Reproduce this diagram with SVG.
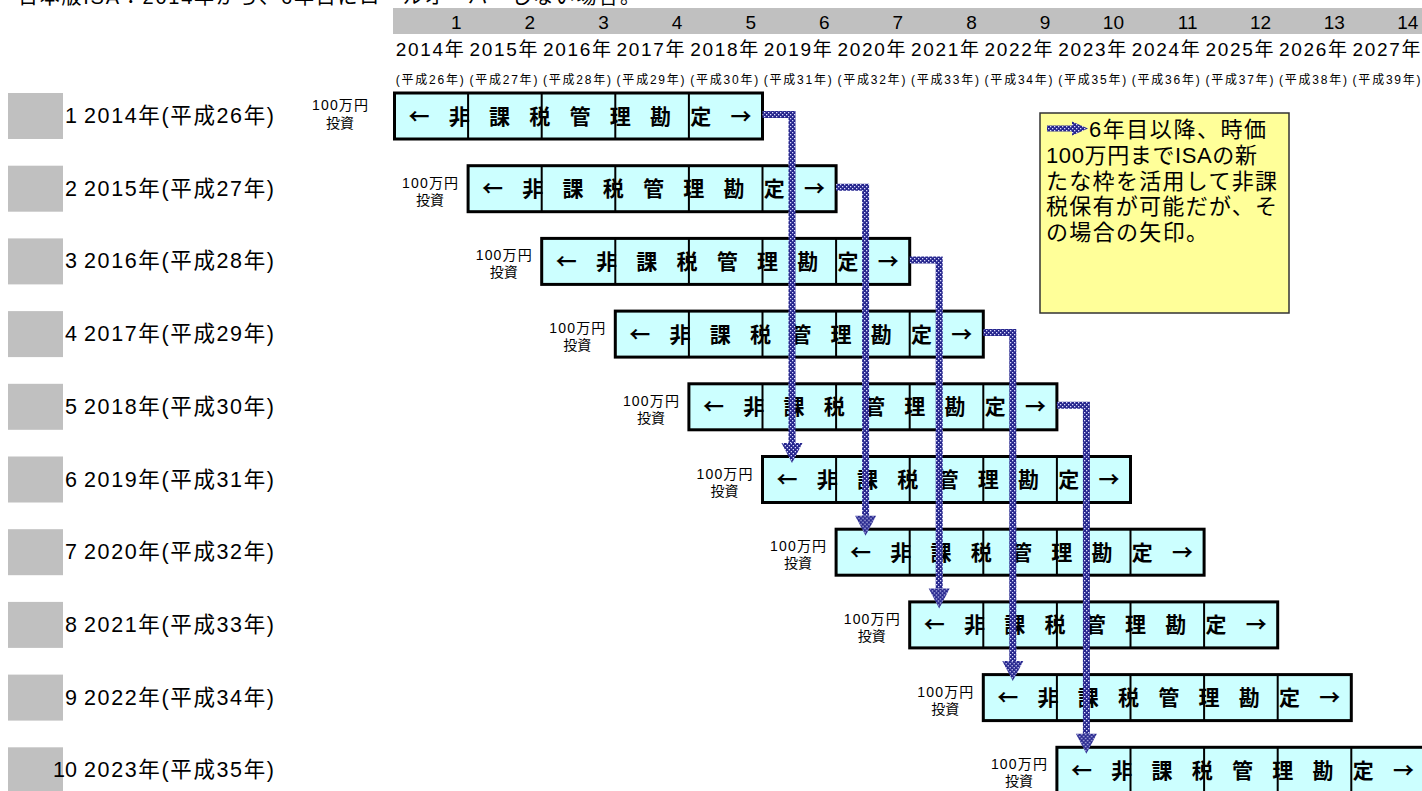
<svg xmlns="http://www.w3.org/2000/svg" width="1422" height="791" viewBox="0 0 1422 791">
<style>
text{font-family:"Liberation Sans","Noto Sans CJK JP",sans-serif;fill:#000}
.ttl{font-size:20px}
.num{font-size:19px;text-anchor:end}
.yr{font-size:19px;text-anchor:middle}
.hs{font-size:12px;text-anchor:middle}
.lbl{font-size:21.5px}
.inv{font-size:14px;text-anchor:middle}
.bx{fill:#ccffff;stroke:#000;stroke-width:3}
.dv{stroke:#000;stroke-width:2}
.bt{font-family:"Noto Sans CJK JP",sans-serif;font-size:21px;font-weight:bold}
.gray{fill:#c0c0c0}
.note{fill:#ffff99;stroke:#333;stroke-width:1.5}
.nt{font-size:22px}
.con{fill:none;stroke:url(#chk);stroke-width:7;stroke-linejoin:miter;marker-end:url(#ah)}
</style>
<defs>
<pattern id="chk" width="4" height="4" patternUnits="userSpaceOnUse">
<rect width="4" height="4" fill="#25258c"/>
<rect x="0" y="0" width="1.3" height="1.3" fill="#dcdcff"/>
<rect x="2" y="2" width="1.3" height="1.3" fill="#dcdcff"/>
</pattern>
<marker id="ah" markerUnits="userSpaceOnUse" markerWidth="20" markerHeight="22" viewBox="0 -11 20 22" refX="0" refY="0" orient="auto" overflow="visible">
<path d="M0,-10.5 L20,0 L0,10.5 Z" fill="url(#chk)"/>
</marker>
<g id="boxshape">
<rect class="bx" x="0" y="0" width="368" height="46"/>
<path class="dv" d="M73.6,0V46M147.2,0V46M220.8,0V46M294.4,0V46"/>
<text class="bt" x="14" y="30.5" textLength="343">← 非 課 税 管 理 勘 定 →</text>
</g>
</defs>

<g id="title">
<text class="ttl" x="18" y="4" textLength="622">日本版ISA：2014年から、6年目にロールオーバーしない場合。</text>
</g>

<g id="header">
<rect class="gray" x="393" y="8" width="1029" height="26"/>
<text class="num" x="461.6" y="29">1</text>
<text class="num" x="535.2" y="29">2</text>
<text class="num" x="608.8" y="29">3</text>
<text class="num" x="682.4" y="29">4</text>
<text class="num" x="756" y="29">5</text>
<text class="num" x="829.6" y="29">6</text>
<text class="num" x="903.2" y="29">7</text>
<text class="num" x="976.8" y="29">8</text>
<text class="num" x="1050.4" y="29">9</text>
<text class="num" x="1124" y="29">10</text>
<text class="num" x="1197.6" y="29">11</text>
<text class="num" x="1271.2" y="29">12</text>
<text class="num" x="1344.8" y="29">13</text>
<text class="num" x="1418.4" y="29">14</text>
<text class="yr" x="429.8" y="56" textLength="68">2014年</text>
<text class="yr" x="503.4" y="56" textLength="68">2015年</text>
<text class="yr" x="577" y="56" textLength="68">2016年</text>
<text class="yr" x="650.6" y="56" textLength="68">2017年</text>
<text class="yr" x="724.2" y="56" textLength="68">2018年</text>
<text class="yr" x="797.8" y="56" textLength="68">2019年</text>
<text class="yr" x="871.4" y="56" textLength="68">2020年</text>
<text class="yr" x="945" y="56" textLength="68">2021年</text>
<text class="yr" x="1018.6" y="56" textLength="68">2022年</text>
<text class="yr" x="1092.2" y="56" textLength="68">2023年</text>
<text class="yr" x="1165.8" y="56" textLength="68">2024年</text>
<text class="yr" x="1239.4" y="56" textLength="68">2025年</text>
<text class="yr" x="1313" y="56" textLength="68">2026年</text>
<text class="yr" x="1386.6" y="56" textLength="68">2027年</text>
<text class="hs" x="429.8" y="84" textLength="68">(平成26年)</text>
<text class="hs" x="503.4" y="84" textLength="68">(平成27年)</text>
<text class="hs" x="577" y="84" textLength="68">(平成28年)</text>
<text class="hs" x="650.6" y="84" textLength="68">(平成29年)</text>
<text class="hs" x="724.2" y="84" textLength="68">(平成30年)</text>
<text class="hs" x="797.8" y="84" textLength="68">(平成31年)</text>
<text class="hs" x="871.4" y="84" textLength="68">(平成32年)</text>
<text class="hs" x="945" y="84" textLength="68">(平成33年)</text>
<text class="hs" x="1018.6" y="84" textLength="68">(平成34年)</text>
<text class="hs" x="1092.2" y="84" textLength="68">(平成35年)</text>
<text class="hs" x="1165.8" y="84" textLength="68">(平成36年)</text>
<text class="hs" x="1239.4" y="84" textLength="68">(平成37年)</text>
<text class="hs" x="1313" y="84" textLength="68">(平成38年)</text>
<text class="hs" x="1386.6" y="84" textLength="68">(平成39年)</text>
</g>

<g id="row1"><rect class="gray" x="8" y="93" width="55" height="46"/><text class="lbl" x="77" y="123" text-anchor="end">1</text><text class="lbl" x="84" y="123" textLength="190">2014年(平成26年)</text></g>
<g id="row2"><rect class="gray" x="8" y="165.7" width="55" height="46"/><text class="lbl" x="77" y="195.7" text-anchor="end">2</text><text class="lbl" x="84" y="195.7" textLength="190">2015年(平成27年)</text></g>
<g id="row3"><rect class="gray" x="8" y="238.4" width="55" height="46"/><text class="lbl" x="77" y="268.4" text-anchor="end">3</text><text class="lbl" x="84" y="268.4" textLength="190">2016年(平成28年)</text></g>
<g id="row4"><rect class="gray" x="8" y="311.1" width="55" height="46"/><text class="lbl" x="77" y="341.1" text-anchor="end">4</text><text class="lbl" x="84" y="341.1" textLength="190">2017年(平成29年)</text></g>
<g id="row5"><rect class="gray" x="8" y="383.8" width="55" height="46"/><text class="lbl" x="77" y="413.8" text-anchor="end">5</text><text class="lbl" x="84" y="413.8" textLength="190">2018年(平成30年)</text></g>
<g id="row6"><rect class="gray" x="8" y="456.5" width="55" height="46"/><text class="lbl" x="77" y="486.5" text-anchor="end">6</text><text class="lbl" x="84" y="486.5" textLength="190">2019年(平成31年)</text></g>
<g id="row7"><rect class="gray" x="8" y="529.2" width="55" height="46"/><text class="lbl" x="77" y="559.2" text-anchor="end">7</text><text class="lbl" x="84" y="559.2" textLength="190">2020年(平成32年)</text></g>
<g id="row8"><rect class="gray" x="8" y="601.9" width="55" height="46"/><text class="lbl" x="77" y="631.9" text-anchor="end">8</text><text class="lbl" x="84" y="631.9" textLength="190">2021年(平成33年)</text></g>
<g id="row9"><rect class="gray" x="8" y="674.6" width="55" height="46"/><text class="lbl" x="77" y="704.6" text-anchor="end">9</text><text class="lbl" x="84" y="704.6" textLength="190">2022年(平成34年)</text></g>
<g id="row10"><rect class="gray" x="8" y="747.3" width="55" height="46"/><text class="lbl" x="77" y="777.3" text-anchor="end">10</text><text class="lbl" x="84" y="777.3" textLength="190">2023年(平成35年)</text></g>

<g id="inv1"><text class="inv" x="340" y="110" textLength="56">100万円</text><text class="inv" x="340" y="128">投資</text></g>
<g id="inv2"><text class="inv" x="430.1" y="187.7" textLength="56">100万円</text><text class="inv" x="430.1" y="204.7">投資</text></g>
<g id="inv3"><text class="inv" x="503.7" y="260.4" textLength="56">100万円</text><text class="inv" x="503.7" y="277.4">投資</text></g>
<g id="inv4"><text class="inv" x="577.3" y="333.1" textLength="56">100万円</text><text class="inv" x="577.3" y="350.1">投資</text></g>
<g id="inv5"><text class="inv" x="650.9" y="405.8" textLength="56">100万円</text><text class="inv" x="650.9" y="422.8">投資</text></g>
<g id="inv6"><text class="inv" x="724.5" y="478.5" textLength="56">100万円</text><text class="inv" x="724.5" y="495.5">投資</text></g>
<g id="inv7"><text class="inv" x="798.1" y="551.2" textLength="56">100万円</text><text class="inv" x="798.1" y="568.2">投資</text></g>
<g id="inv8"><text class="inv" x="871.7" y="623.9" textLength="56">100万円</text><text class="inv" x="871.7" y="640.9">投資</text></g>
<g id="inv9"><text class="inv" x="945.3" y="696.6" textLength="56">100万円</text><text class="inv" x="945.3" y="713.6">投資</text></g>
<g id="inv10"><text class="inv" x="1018.9" y="769.3" textLength="56">100万円</text><text class="inv" x="1018.9" y="786.3">投資</text></g>

<g id="box1"><use href="#boxshape" x="394.5" y="93"/></g>
<g id="box2"><use href="#boxshape" x="468.1" y="165.7"/></g>
<g id="box3"><use href="#boxshape" x="541.7" y="238.4"/></g>
<g id="box4"><use href="#boxshape" x="615.3" y="311.1"/></g>
<g id="box5"><use href="#boxshape" x="688.9" y="383.8"/></g>
<g id="box6"><use href="#boxshape" x="762.5" y="456.5"/></g>
<g id="box7"><use href="#boxshape" x="836.1" y="529.2"/></g>
<g id="box8"><use href="#boxshape" x="909.7" y="601.9"/></g>
<g id="box9"><use href="#boxshape" x="983.3" y="674.6"/></g>
<g id="box10"><use href="#boxshape" x="1056.9" y="747.3"/></g>

<g id="note">
<rect class="note" x="1040" y="113" width="249" height="200"/>
<path d="M1047,125.5H1072V121.5L1088,128.5L1072,135.5V131.5H1047Z" fill="url(#chk)"/>
<text class="nt" x="1089" y="137" textLength="177">6年目以降、時価</text>
<text class="nt" x="1046" y="163" textLength="211">100万円までISAの新</text>
<text class="nt" x="1046" y="188.5" textLength="231">たな枠を活用して非課</text>
<text class="nt" x="1046" y="214" textLength="231">税保有が可能だが、そ</text>
<text class="nt" x="1046" y="240" textLength="162">の場合の矢印。</text>
</g>

<g id="connectors">
<path class="con" d="M762.5,114.5H792V443"/>
<path class="con" d="M836.1,187.2H865.6V515.7"/>
<path class="con" d="M909.7,259.9H939.2V588.4"/>
<path class="con" d="M983.3,332.6H1012.8V661.1"/>
<path class="con" d="M1056.9,405.3H1086.4V733.8"/>
</g>
</svg>
